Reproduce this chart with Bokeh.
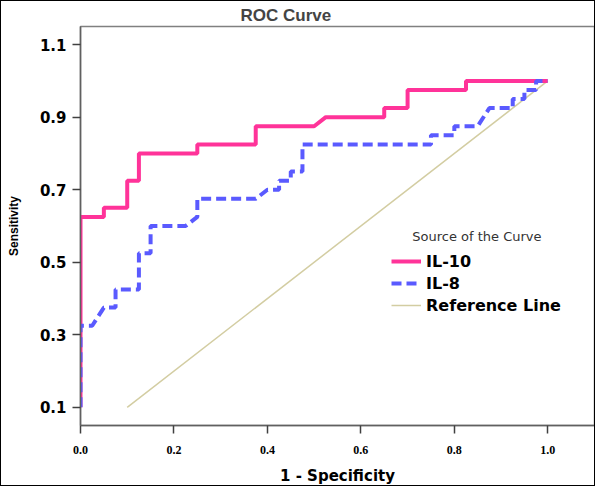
from bokeh.plotting import figure
from bokeh.models import (Legend, LegendItem, Label, FixedTicker, NumeralTickFormatter,
                          Range1d)
from bokeh.embed import file_html
from bokeh.resources import INLINE

# ---- data ----
il10_fpr = [0.0, 0.0, 0.05, 0.05, 0.10, 0.10, 0.125, 0.125, 0.25, 0.25, 0.375, 0.375,
            0.50, 0.525, 0.65, 0.65, 0.70, 0.70, 0.825, 0.825, 1.0]
il10_tpr = [0.10, 0.625, 0.625, 0.65, 0.65, 0.725, 0.725, 0.80, 0.80, 0.825, 0.825, 0.875,
            0.875, 0.90, 0.90, 0.925, 0.925, 0.975, 0.975, 1.0, 1.0]

il8_fpr = [0.0, 0.0, 0.025, 0.05, 0.075, 0.075, 0.125, 0.125, 0.15, 0.15, 0.225, 0.25,
           0.25, 0.375, 0.40, 0.425, 0.425, 0.45, 0.45, 0.475, 0.475, 0.75, 0.75, 0.80,
           0.80, 0.85, 0.875, 0.925, 0.925, 0.95, 0.95, 0.975, 0.975, 1.0]
il8_tpr = [0.10, 0.325, 0.325, 0.375, 0.375, 0.425, 0.425, 0.525, 0.525, 0.60, 0.60, 0.625,
           0.675, 0.675, 0.70, 0.70, 0.725, 0.725, 0.75, 0.75, 0.825, 0.825, 0.85, 0.85,
           0.875, 0.875, 0.925, 0.925, 0.95, 0.95, 0.975, 0.975, 1.0, 1.0]

ref_x = [0.1, 1.0]
ref_y = [0.1, 1.0]

x_ticks = [0.0, 0.2, 0.4, 0.6, 0.8, 1.0]
y_ticks = [0.1, 0.3, 0.5, 0.7, 0.9, 1.1]

series_names = ["IL-10", "IL-8", "Reference Line"]
legend_title = "Source of the Curve"
chart_title = "ROC Curve"

p = figure(width=595, height=486, output_backend="svg", toolbar_location=None,
           x_range=Range1d(0.0, 1.10), y_range=Range1d(0.05, 1.15),
           min_border_left=79, min_border_right=2, min_border_top=25, min_border_bottom=54)
p.styles = {"border": "1px solid black"}

p.title.text = chart_title
p.title.align = "left"
p.title.offset = 160
p.title.vertical_align = "top"
p.title.text_font = "Liberation Sans"
p.title.text_font_size = "17px"
p.title.text_font_style = "bold"
p.title.text_line_height = 0.5
p.title.standoff = 0

p.xgrid.visible = False
p.ygrid.visible = False
p.outline_line_color = "#808080"
p.outline_line_width = 1.5
p.background_fill_color = "white"
p.border_fill_color = "white"

r_ref = p.line(ref_x, ref_y, line_color="#D3CDA2", line_width=1.5)
r10 = p.line(il10_fpr, il10_tpr, line_color="#FF3399", line_width=4)
r8 = p.line(il8_fpr, il8_tpr, line_color="#5A5AFF", line_width=4, line_dash="10 5")

# axes
p.xaxis.ticker = FixedTicker(ticks=x_ticks)
p.xaxis.formatter = NumeralTickFormatter(format="0.0")
p.yaxis.ticker = FixedTicker(ticks=y_ticks)
p.yaxis.formatter = NumeralTickFormatter(format="0.0")
for ax in (p.xaxis[0], p.yaxis[0]):
    ax.axis_line_color = "#606060"
    ax.axis_line_width = 1.5
    ax.major_tick_line_color = "#404040"
    ax.major_tick_line_width = 1.5
    ax.major_tick_in = 0
    ax.major_tick_out = 8
    ax.minor_tick_line_color = None
    ax.axis_label_text_font = "DejaVu Sans"
    ax.axis_label_text_font_style = "bold"
    ax.axis_label_text_color = "black"
    ax.major_label_text_color = "black"

p.xaxis.axis_label = "1 - Specificity"
p.xaxis.axis_label_text_font_size = "15px"
p.xaxis.major_label_text_font = "Liberation Serif"
p.xaxis.major_label_text_font_style = "bold"
p.xaxis.major_label_text_font_size = "12px"
p.xaxis.major_label_standoff = 12
p.xaxis.axis_label_standoff = 10

p.yaxis.axis_label = "Sensitivity"
p.yaxis.axis_label_text_font = "Liberation Sans"
p.yaxis.axis_label_text_font_size = "12px"
p.yaxis.major_label_text_font = "DejaVu Sans"
p.yaxis.major_label_text_font_style = "bold"
p.yaxis.major_label_text_font_size = "15px"
p.yaxis.major_label_standoff = 6
p.yaxis.axis_label_standoff = 16

# legend
p.add_layout(Label(x=0.71, y=0.570, text=legend_title, text_font="DejaVu Sans",
                   text_font_size="13px", text_color="#333333",
                   text_baseline="middle", text_align="left"))
legend = Legend(items=[LegendItem(label=series_names[0], renderers=[r10]),
                       LegendItem(label=series_names[1], renderers=[r8]),
                       LegendItem(label=series_names[2], renderers=[r_ref])],
                location=(311, 110), border_line_color=None, background_fill_alpha=0,
                padding=0, margin=0, spacing=2, glyph_width=30, glyph_height=20,
                label_height=20, label_standoff=5,
                label_text_font="DejaVu Sans", label_text_font_style="bold",
                label_text_font_size="16px", label_text_color="black")
p.add_layout(legend, "center")

open("out.html", "w").write(file_html(p, INLINE))
